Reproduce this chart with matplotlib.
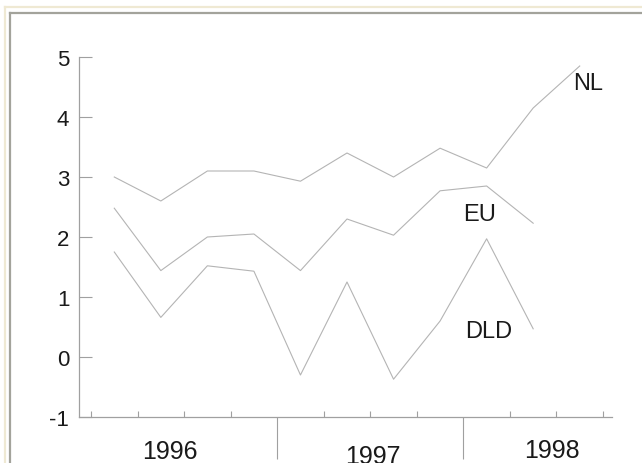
import matplotlib
matplotlib.use("Agg")
import matplotlib.pyplot as plt
from matplotlib.lines import Line2D
from matplotlib.transforms import blended_transform_factory

plt.rcParams['font.family'] = ['Liberation Sans', 'DejaVu Sans']

# Data (quarterly, Q1 1996 .. Q3 1998)
quarters = list(range(11))
nl = [3.0, 2.6, 3.1, 3.1, 2.93, 3.4, 3.0, 3.48, 3.15, 4.15, 4.85]
eu = [2.48, 1.44, 2.0, 2.05, 1.44, 2.3, 2.03, 2.77, 2.85, 2.23]
dld = [1.75, 0.66, 1.52, 1.43, -0.3, 1.25, -0.37, 0.6, 1.97, 0.47]
years = ["1996", "1997", "1998"]
yticks = [-1, 0, 1, 2, 3, 4, 5]

W, H = 642, 464
fig = plt.figure(figsize=(W / 100, H / 100), dpi=100)
fig.patch.set_facecolor('white')

# frame lines (figure pixel coords)
def fline(x0, y0, x1, y1, color, lw):
    fig.add_artist(Line2D([x0 / W, x1 / W], [1 - y0 / H, 1 - y1 / H],
                          transform=fig.transFigure, color=color, lw=lw))

fline(4.5, 7.5, 642, 7.5, '#efe9d3', 1.6)
fline(4.5, 7.5, 4.5, 464, '#efe9d3', 1.6)
fline(10, 13.5, 642, 13.5, '#a3a39b', 1.6)
fline(10, 13.5, 10, 464, '#a3a39b', 1.6)

ax = fig.add_axes([79 / W, 46 / H, 533 / W, 360 / H])
ax.set_facecolor('none')
x0 = -0.5 - 12 / 46.5
x1 = 10.5 + 9 / 46.5
ax.set_xlim(x0, x1)
ax.set_ylim(-1, 5)

lc = '#b4b4b4'
ax.plot(quarters, nl, color=lc, lw=0.8, clip_on=False)
ax.plot(quarters[:len(eu)], eu, color=lc, lw=0.8, clip_on=False)
ax.plot(quarters[:len(dld)], dld, color=lc, lw=0.8, clip_on=False)

for s in ['top', 'right']:
    ax.spines[s].set_visible(False)
for s in ['left', 'bottom']:
    ax.spines[s].set_color('#a0a0a0')
    ax.spines[s].set_linewidth(0.9)

ax.set_yticks(yticks)
ax.set_yticklabels([str(v) for v in yticks])
ax.tick_params(axis='y', direction='in', length=9, width=0.8, color='#a0a0a0',
               labelsize=16, pad=7, labelcolor='#1a1a1a')

minor = [i - 0.5 for i in range(12) if i not in (4, 8)]
major = [3.5, 7.5]
ax.set_xticks(major)
ax.set_xticklabels([])
ax.set_xticks(minor, minor=True)
ax.tick_params(axis='x', which='major', direction='out', length=30, width=0.8, color='#a0a0a0')
ax.tick_params(axis='x', which='minor', direction='in', length=4, width=0.8, color='#a0a0a0')

tr = blended_transform_factory(ax.transData, fig.transFigure)
year_x = [1.2, 5.56, 9.41]
year_y = [452, 457, 451.5]
for t, xx, yy in zip(years, year_x, year_y):
    ax.text(xx, 1 - yy / H, t, transform=tr, ha='center', va='center',
            fontsize=18, color='#1a1a1a', clip_on=False)

ax.text(10.19, 4.56, "NL", ha='center', va='center', fontsize=17, color='#1a1a1a')
ax.text(7.84, 2.38, "EU", ha='center', va='center', fontsize=17, color='#1a1a1a')
ax.text(8.04, 0.43, "DLD", ha='center', va='center', fontsize=17, color='#1a1a1a')

fig.savefig("out.png", dpi=100, facecolor='white')
